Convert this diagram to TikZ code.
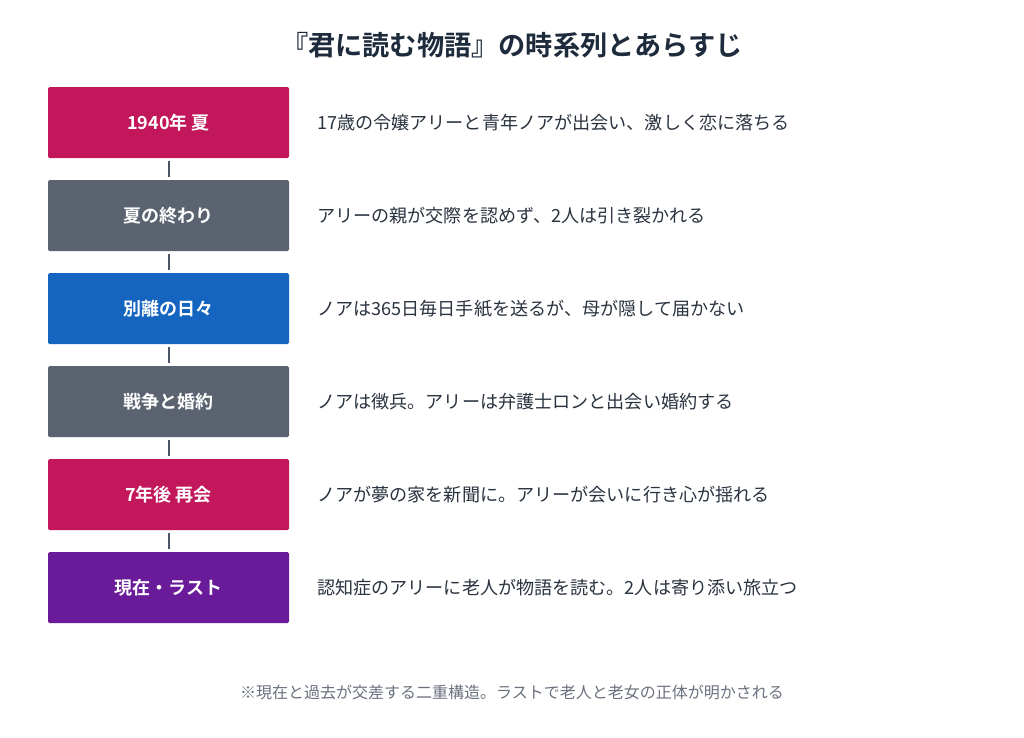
\documentclass[tikz,border=0pt]{standalone}
\usepackage{fontspec}
\setmainfont{Noto Sans CJK JP}[BoldFont={Noto Sans CJK JP Bold}]
\definecolor{crim}{HTML}{C2185B}
\definecolor{slate}{HTML}{5B6370}
\definecolor{blu}{HTML}{1565C0}
\definecolor{purp}{HTML}{6A1B9A}
\definecolor{titlec}{HTML}{1E2B3C}
\definecolor{descc}{HTML}{2A3340}
\definecolor{notec}{HTML}{6B7280}
\definecolor{linec}{HTML}{4B5563}
\tikzset{
  stage/.style={minimum width=241pt,minimum height=71pt,rounded corners=1.5pt,inner sep=0pt,text=white,font=\fontsize{18}{21}\selectfont\bfseries},
  desc/.style={anchor=west,inner sep=0pt,text=descc,font=\fontsize{18.1}{22}\selectfont},
  link/.style={draw=linec,line width=2pt},
}
\begin{document}
\begin{tikzpicture}[x=1pt,y=1pt]
\useasboundingbox[fill=white] (0,0) rectangle (1024,-737);
\node[font=\fontsize{27.2}{31}\selectfont\bfseries,text=titlec] (title) at (512,-45) {『君に読む物語』の時系列とあらすじ};
\node[stage,fill=crim] (s1) at (168.5,-122.5) {1940年 夏};
\node[stage,fill=slate] (s2) at (168.5,-215.5) {夏の終わり};
\node[stage,fill=blu] (s3) at (168.5,-308.5) {別離の日々};
\node[stage,fill=slate] (s4) at (168.5,-401.5) {戦争と婚約};
\node[stage,fill=crim] (s5) at (168.5,-494.5) {7年後 再会};
\node[stage,fill=purp] (s6) at (168.5,-587.5) {現在・ラスト};
\node[desc] (d1) at (317,-122.5) {17歳の令嬢アリーと青年ノアが出会い、激しく恋に落ちる};
\node[desc] (d2) at (317,-215.5) {アリーの親が交際を認めず、2人は引き裂かれる};
\node[desc] (d3) at (317,-308.5) {ノアは365日毎日手紙を送るが、母が隠して届かない};
\node[desc] (d4) at (317,-401.5) {ノアは徴兵。アリーは弁護士ロンと出会い婚約する};
\node[desc] (d5) at (317,-494.5) {ノアが夢の家を新聞に。アリーが会いに行き心が揺れる};
\node[desc] (d6) at (317,-587.5) {認知症のアリーに老人が物語を読む。2人は寄り添い旅立つ};
\draw[link] ([yshift=-3pt]s1.south) -- ([yshift=3pt]s2.north);
\draw[link] ([yshift=-3pt]s2.south) -- ([yshift=3pt]s3.north);
\draw[link] ([yshift=-3pt]s3.south) -- ([yshift=3pt]s4.north);
\draw[link] ([yshift=-3pt]s4.south) -- ([yshift=3pt]s5.north);
\draw[link] ([yshift=-3pt]s5.south) -- ([yshift=3pt]s6.north);
\node[font=\fontsize{16}{20}\selectfont,text=notec] (note) at (512,-692) {※現在と過去が交差する二重構造。ラストで老人と老女の正体が明かされる};
\end{tikzpicture}
\end{document}
